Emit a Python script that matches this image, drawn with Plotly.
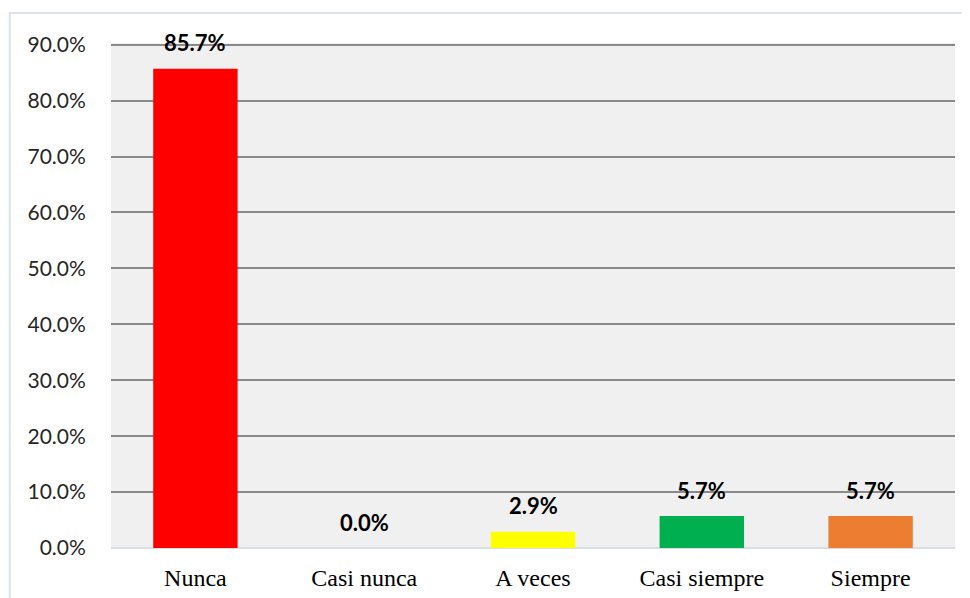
import plotly.graph_objects as go

categories = ["Nunca", "Casi nunca", "A veces", "Casi siempre", "Siempre"]
values = [85.7, 0.0, 2.9, 5.7, 5.7]
colors = ["#ff0000", "#a5a5a5", "#ffff00", "#00b050", "#ed7d31"]
y_ticks = [0, 10, 20, 30, 40, 50, 60, 70, 80, 90]
y_tick_labels = [f"{v:.1f}%" for v in y_ticks]
value_labels = [f"{v:.1f}%" for v in values]

fig = go.Figure()
fig.add_trace(go.Bar(
    x=categories, y=values,
    marker=dict(color=colors, line=dict(width=0)),
    width=0.5, showlegend=False, hoverinfo="skip",
))

for c, v, lab in zip(categories, values, value_labels):
    fig.add_annotation(x=c, y=v, text=f"<b>{lab}</b>", showarrow=False,
                       yshift=26, font=dict(family="Lato", size=22, color="#000000"))

fig.add_shape(type="rect", xref="paper", yref="paper",
              x0=-0.12, x1=1.05, y0=-0.3, y1=1.0594,
              line=dict(color="#dce2ea", width=2), fillcolor="rgba(0,0,0,0)", layer="below")

fig.update_layout(
    width=962, height=590,
    margin=dict(l=103, r=15, t=35, b=50),
    paper_bgcolor="#ffffff", plot_bgcolor="#f0f0f0",
    bargap=0.5,
    xaxis=dict(
        automargin=False,
        showgrid=False, showline=False, zeroline=False,
        ticks="outside", ticklen=8, tickcolor="rgba(0,0,0,0)",
        tickfont=dict(family="Liberation Serif", size=24, color="#000000"),
    ),
    yaxis=dict(
        automargin=False,
        range=[0, 90.3], tickvals=y_ticks, ticktext=y_tick_labels,
        showgrid=True, gridcolor="#8a8a8a", gridwidth=2,
        zeroline=True, zerolinecolor="#d9dee6", zerolinewidth=2,
        showline=False,
        ticks="outside", ticklen=20, tickcolor="rgba(0,0,0,0)",
        tickfont=dict(family="Lato", size=21, color="#262626"),
    ),
)

fig.write_html("out.html")
